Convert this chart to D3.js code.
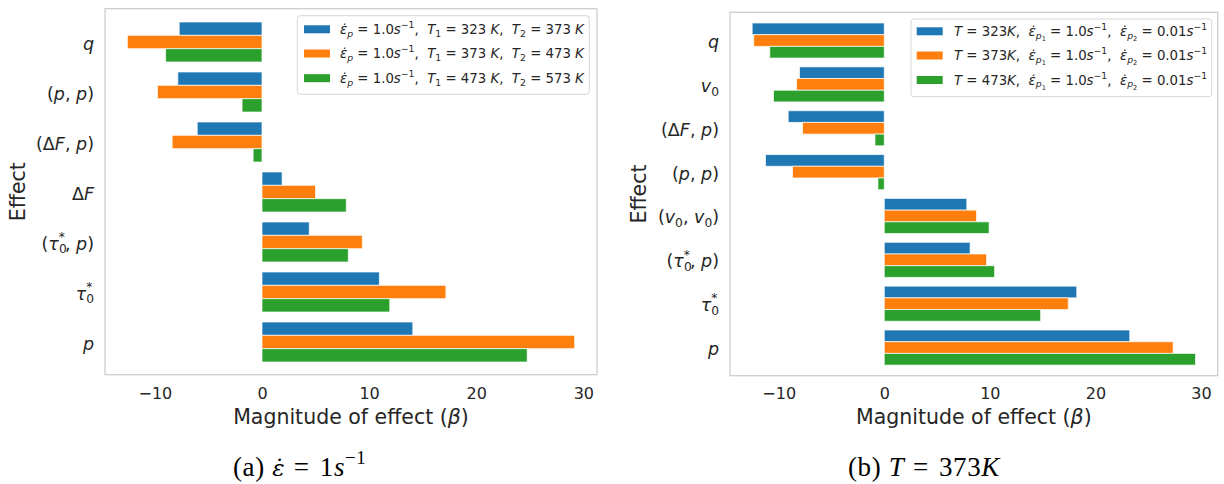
<!DOCTYPE html>
<html><head><meta charset="utf-8">
<script src="https://cdn.jsdelivr.net/npm/d3@7"></script>
<style>body{margin:0;background:#fff} svg{display:block} text{white-space:pre}</style>
</head><body><svg id="c" width="1224" height="484"></svg>
<script>
// ---------- data ----------
const catsA = ["q", "pp", "dFp", "dF", "taup", "tau", "p"];
const seriesA1 = [-7.73, -7.86, -6.05, 1.88, 4.41, 10.96, 14.08];
const seriesA2 = [-12.57, -9.76, -8.39, 5.0, 9.37, 17.17, 29.19];
const seriesA3 = [-9.0, -1.86, -0.83, 7.87, 8.06, 11.93, 24.76];

const catsB = ["q", "v0", "dFp", "pp", "v0v0", "taup", "tau", "p"];
const seriesB1 = [-12.51, -8.03, -9.1, -11.25, 7.82, 8.13, 18.23, 23.25];
const seriesB2 = [-12.36, -8.31, -7.74, -8.69, 8.74, 9.69, 17.43, 27.36];
const seriesB3 = [-10.84, -10.49, -0.88, -0.6, 9.93, 10.45, 14.81, 29.48];

const xTicks = [-10, 0, 10, 20, 30];
const colors = ["#1f77b4", "#ff7f0e", "#2ca02c"];
const xLabel = [["Magnitude of effect (", "r"], ["β", "i"], [")", "r"]];
const yLabel = "Effect";

const EPS = "ε\u0307";
const labelSpecs = {
  q: [["q", "i"]],
  p: [["p", "i"]],
  pp: [["(", "r"], ["p", "i"], [", ", "r"], ["p", "i"], [")", "r"]],
  dFp: [["(Δ", "r"], ["F", "i"], [", ", "r"], ["p", "i"], [")", "r"]],
  dF: [["Δ", "r"], ["F", "i"]],
  taup: [["(", "r"], ["τ", "i"], ["0", "sub"], ["*", "sup2"], [", ", "r"], ["p", "i"], [")", "r"]],
  tau: [["τ", "i"], ["0", "sub"], ["*", "sup2"]],
  v0: [["v", "i"], ["0", "sub"]],
  v0v0: [["(", "r"], ["v", "i"], ["0", "sub"], [", ", "r"], ["v", "i"], ["0", "sub"], [")", "r"]]
};
const legendA = [
  ["323", "373"], ["373", "473"], ["473", "573"]
].map(([a, b]) => [[EPS, "i"], ["p", "isub"], [" = 1.0", "r"], ["s", "i"], ["−1", "sup"], [",  ", "r"],
  ["T", "i"], ["1", "sub"], [" = " + a + " ", "r"], ["K", "i"], [",  ", "r"],
  ["T", "i"], ["2", "sub"], [" = " + b + " ", "r"], ["K", "i"]]);
const legendB = ["323", "373", "473"].map(t => [["T", "i"], [" = " + t, "r"], ["K", "i"], [",  ", "r"],
  [EPS, "i"], ["p", "isub"], ["1", "subsub"], [" = 1.0", "r"], ["s", "i"], ["−1", "sup"], [",  ", "r"],
  [EPS, "i"], ["p", "isub"], ["2", "subsub"], [" = 0.01", "r"], ["s", "i"], ["−1", "sup"]]);
const captionA = [["(a) ", "r"], [EPS, "e"], [" = ", "m"], ["1", "r"], ["s", "i"], ["−1", "sup"]];
const captionB = [["(b) ", "r"], ["T", "i"], [" = ", "m"], ["373", "r"], ["K", "i"]];

// ---------- helpers ----------
const TXT = "#262626";
const svg = d3.select("#c");

function richText(sel, spec, size) {
  let cur = 0;
  spec.forEach(([t, s]) => {
    const ts = sel.append("tspan").text(t);
    let shift = 0, fs = size, italic = false, dx = 0;
    if (s === "i" || s === "e" || s === "isub") italic = true;
    if (s === "e") ts.attr("font-family", "DejaVu Serif").attr("font-size", size * 0.85);
    if (s === "m") ts.attr("letter-spacing", 2);
    if (s === "sub" || s === "isub") { shift = 0.22 * size; fs = 0.7 * size; }
    if (s === "subsub") { shift = 0.38 * size; fs = 0.5 * size; }
    if (s === "sup") { shift = -0.45 * size; fs = 0.7 * size; }
    if (s === "sup2") { shift = -0.5 * size; fs = 0.7 * size; dx = -0.45 * size; }
    if (s !== "e") ts.attr("font-size", fs);
    ts.attr("font-style", italic ? "italic" : "normal");
    if (shift !== cur) { ts.attr("dy", shift - cur); cur = shift; }
    if (dx) ts.attr("dx", dx);
  });
}

function panel(cfg) {
  const { cats, series, fr, band, leg, ylabX, cap } = cfg;
  const all = series.flat();
  const mn = Math.min(0, d3.min(all)), mx = Math.max(0, d3.max(all));
  const m = (mx - mn) * 0.05;
  const x = d3.scaleLinear().domain([mn - m, mx + m]).range([fr.x0, fr.x1]);
  const y = d3.scaleBand().domain(cats).range(band).paddingInner(0.2).paddingOuter(0.1);
  const sub = d3.scaleBand().domain([0, 1, 2]).range([0, y.bandwidth()]);
  const g = svg.append("g");

  series.forEach((vals, si) => {
    g.selectAll(null).data(vals).enter().append("rect")
      .attr("x", d => x(Math.min(0, d)))
      .attr("width", d => Math.abs(x(d) - x(0)))
      .attr("y", (d, i) => y(cats[i]) + sub(si))
      .attr("height", sub.bandwidth())
      .attr("fill", colors[si])
      .attr("stroke", "#fff").attr("stroke-opacity", 0.7).attr("stroke-width", 1);
  });

  // frame
  g.append("rect").attr("x", fr.x0).attr("y", fr.y0)
    .attr("width", fr.x1 - fr.x0).attr("height", fr.y1 - fr.y0)
    .attr("fill", "none").attr("stroke", "#cccccc").attr("stroke-width", 1.25);

  // x axis (D3 axis, styled like matplotlib)
  const ax = g.append("g").attr("transform", `translate(0,${fr.y1})`)
    .call(d3.axisBottom(x).tickValues(xTicks).tickSize(0).tickPadding(0)
      .tickFormat(d => d < 0 ? "−" + Math.abs(d) : String(d)));
  ax.select(".domain").remove();
  ax.selectAll("text").attr("fill", TXT).attr("font-size", 16)
    .attr("font-family", "DejaVu Sans").attr("dy", null).attr("y", 399.5 - fr.y1);

  // y tick labels
  cats.forEach(c => {
    const t = g.append("text").attr("x", fr.x0 - 11).attr("y", y(c) + y.bandwidth() / 2 + 7.5)
      .attr("text-anchor", "end").attr("fill", TXT).attr("font-family", "DejaVu Sans");
    richText(t, labelSpecs[c], 17.5);
  });

  // axis labels
  const xl = g.append("text").attr("x", (fr.x0 + fr.x1) / 2).attr("y", 424).attr("text-anchor", "middle")
    .attr("fill", TXT).attr("font-family", "DejaVu Sans");
  richText(xl, xLabel, 20.5);
  g.append("text").attr("transform", `translate(${ylabX},${(fr.y0 + fr.y1) / 2}) rotate(-90)`)
    .attr("text-anchor", "middle").attr("fill", TXT).attr("font-family", "DejaVu Sans")
    .attr("font-size", 20.5).text(yLabel);

  // legend
  g.append("rect").attr("x", leg.x0).attr("y", leg.y0).attr("width", leg.x1 - leg.x0)
    .attr("height", leg.y1 - leg.y0).attr("rx", 3).attr("fill", "#fff").attr("fill-opacity", 0.8)
    .attr("stroke", "#d6d6d6").attr("stroke-width", 1);
  leg.labels.forEach((spec, i) => {
    const cy = leg.rows[i];
    g.append("rect").attr("x", leg.px).attr("y", cy - 4).attr("width", 26).attr("height", 8)
      .attr("fill", colors[i]);
    const t = g.append("text").attr("x", leg.tx).attr("y", cy + 4.5).attr("fill", TXT)
      .attr("font-family", "DejaVu Sans");
    richText(t, spec, 13.3);
  });

  // caption
  const ct = g.append("text").attr("x", cap.x).attr("y", cap.y).attr("fill", "#000")
    .attr("font-family", "Liberation Serif").attr("letter-spacing", 0.6);
  richText(ct, cap.spec, 27);
}

panel({
  cats: catsA, series: [seriesA1, seriesA2, seriesA3],
  fr: { x0: 105, x1: 597, y0: 8.7, y1: 374.7 },
  band: [17, 367],
  leg: { x0: 297.3, x1: 589.3, y0: 15.7, y1: 94.3, rows: [29.3, 53.5, 78.2], px: 304, tx: 340, labels: legendA },
  ylabX: 25,
  cap: { x: 233, y: 476, spec: captionA }
});
panel({
  cats: catsB, series: [seriesB1, seriesB2, seriesB3],
  fr: { x0: 730, x1: 1217.7, y0: 12.3, y1: 375.7 },
  band: [18.6, 369.5],
  leg: { x0: 911, x1: 1211.7, y0: 19, y1: 96.7, rows: [31.3, 55.5, 80], px: 916.7, tx: 954, labels: legendB },
  ylabX: 646,
  cap: { x: 848, y: 476, spec: captionB }
});
</script></body></html>
